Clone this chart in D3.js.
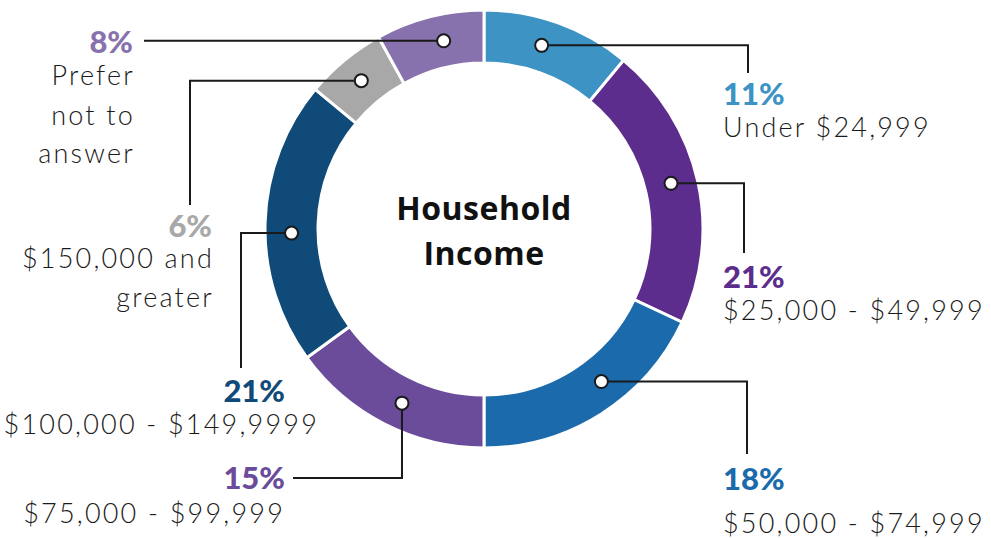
<!DOCTYPE html>
<html>
<head>
<meta charset="utf-8">
<script src="https://cdn.jsdelivr.net/npm/d3@7"></script>
<style>
  body { margin: 0; background: #fff; }
  svg { display: block; }
</style>
</head>
<body>
<div id="chart"></div>
<script>
// data
var categories = ["Under $24,999", "$25,000 - $49,999", "$50,000 - $74,999", "$75,000 - $99,999",
  "$100,000 - $149,9999", "$150,000 and greater", "Prefer not to answer"];
var shares = [11, 21, 18, 15, 21, 6, 8];
var colors = ["#3d93c3", "#5c2d8c", "#1b6aab", "#6a4c9b", "#0f4a78", "#a8a8a8", "#8872ae"];
var title = ["Household", "Income"];

// callout layout (label placement + leader elbows)
var callouts = [
  { frac: 0.44, leader: [["h", 748], ["v", 73]], anchor: "start", pct: [723, 105], lines: ["Under $24,999"], lineX: 723, lineY: [137] },
  { frac: 0.485, leader: [["h", 744], ["v", 253]], anchor: "start", pct: [723, 288], lines: ["$25,000 - $49,999"], lineX: 723, lineY: [320] },
  { frac: 0.42, leader: [["h", 747], ["v", 454]], anchor: "start", pct: [723, 490], lines: ["$50,000 - $74,999"], lineX: 723, lineY: [533] },
  { frac: 0.467, leader: [["v", 478], ["h", 293]], anchor: "end", pct: [285, 489], lines: ["$75,000 - $99,999"], lineX: 285, lineY: [523] },
  { frac: 0.46, leader: [["h", 241], ["v", 368]], anchor: "end", pct: [285, 402], lines: ["$100,000 - $149,9999"], lineX: 319, lineY: [434] },
  { frac: 0.5, leader: [["h", 190], ["v", 205]], anchor: "end", pct: [212, 237], lines: ["$150,000 and", "greater"], lineX: 214, lineY: [268, 307] },
  { frac: 0.58, leader: [["h", 144]], anchor: "end", pct: [133, 53], lines: ["Prefer", "not to", "answer"], lineX: 135, lineY: [85, 125, 163] }
];

var width = 991;
var height = 538;
var cx = 484;
var cy = 229;
var outerR = 219;
var innerR = 166;

var svg = d3.select("#chart")
  .append("svg")
  .attr("width", width)
  .attr("height", height);

var pie = d3.pie().sort(null).value(function(d) { return d; });
var arcs = pie(shares);

var arc = d3.arc().innerRadius(innerR).outerRadius(outerR);

var g = svg.append("g").attr("transform", "translate(" + cx + "," + cy + ")");

g.selectAll("path.slice")
  .data(arcs)
  .enter()
  .append("path")
  .attr("class", "slice")
  .attr("d", arc)
  .attr("fill", function(d, i) { return colors[i]; })
  .attr("stroke", "#fff")
  .attr("stroke-width", 3);

// dot positions inside each slice
var midR = (innerR + outerR) / 2;
var dots = arcs.map(function(a, i) {
  var ang = a.startAngle + callouts[i].frac * (a.endAngle - a.startAngle);
  return [cx + midR * Math.sin(ang), cy - midR * Math.cos(ang)];
});

// leader lines
svg.selectAll("path.leader")
  .data(callouts)
  .enter()
  .append("path")
  .attr("class", "leader")
  .attr("fill", "none")
  .attr("stroke", "#1a1a1a")
  .attr("stroke-width", 2)
  .attr("d", function(d, i) {
    var x = dots[i][0], y = dots[i][1];
    var s = "M" + x + "," + y;
    d.leader.forEach(function(seg) {
      if (seg[0] === "h") { x = seg[1]; } else { y = seg[1]; }
      s += "L" + x + "," + y;
    });
    return s;
  });

svg.selectAll("circle.dot")
  .data(dots)
  .enter()
  .append("circle")
  .attr("class", "dot")
  .attr("cx", function(d) { return d[0]; })
  .attr("cy", function(d) { return d[1]; })
  .attr("r", 6.5)
  .attr("fill", "#fff")
  .attr("stroke", "#1a1a1a")
  .attr("stroke-width", 2);

// percentages
svg.selectAll("text.pct")
  .data(callouts)
  .enter()
  .append("text")
  .attr("class", "pct")
  .attr("x", function(d) { return d.pct[0]; })
  .attr("y", function(d) { return d.pct[1]; })
  .attr("text-anchor", function(d) { return d.anchor; })
  .style("font-family", "Lato, 'Open Sans', sans-serif")
  .style("font-weight", 900)
  .style("font-size", "31px")
  .attr("fill", function(d, i) { return colors[i]; })
  .text(function(d, i) { return shares[i] + "%"; });

// category labels
callouts.forEach(function(d, i) {
  svg.selectAll(null)
    .data(d.lines)
    .enter()
    .append("text")
    .attr("class", "label")
    .attr("x", d.lineX)
    .attr("y", function(t, j) { return d.lineY[j]; })
    .attr("text-anchor", d.anchor)
    .style("font-family", "Lato, 'Open Sans', sans-serif")
    .style("font-weight", 300)
    .style("font-size", "27px")
    .style("letter-spacing", "2.2px")
    .attr("fill", "#1a1a1a")
    .text(function(t) { return t; });
});

// center title
svg.selectAll("text.title")
  .data(title)
  .enter()
  .append("text")
  .attr("class", "title")
  .attr("x", cx)
  .attr("y", function(d, i) { return 220 + i * 45; })
  .attr("text-anchor", "middle")
  .style("font-family", "'Open Sans', Lato, sans-serif")
  .style("font-weight", 700)
  .style("font-size", "32px")
  .style("letter-spacing", "0.5px")
  .attr("fill", "#111")
  .text(function(d) { return d; });
</script>
</body>
</html>
